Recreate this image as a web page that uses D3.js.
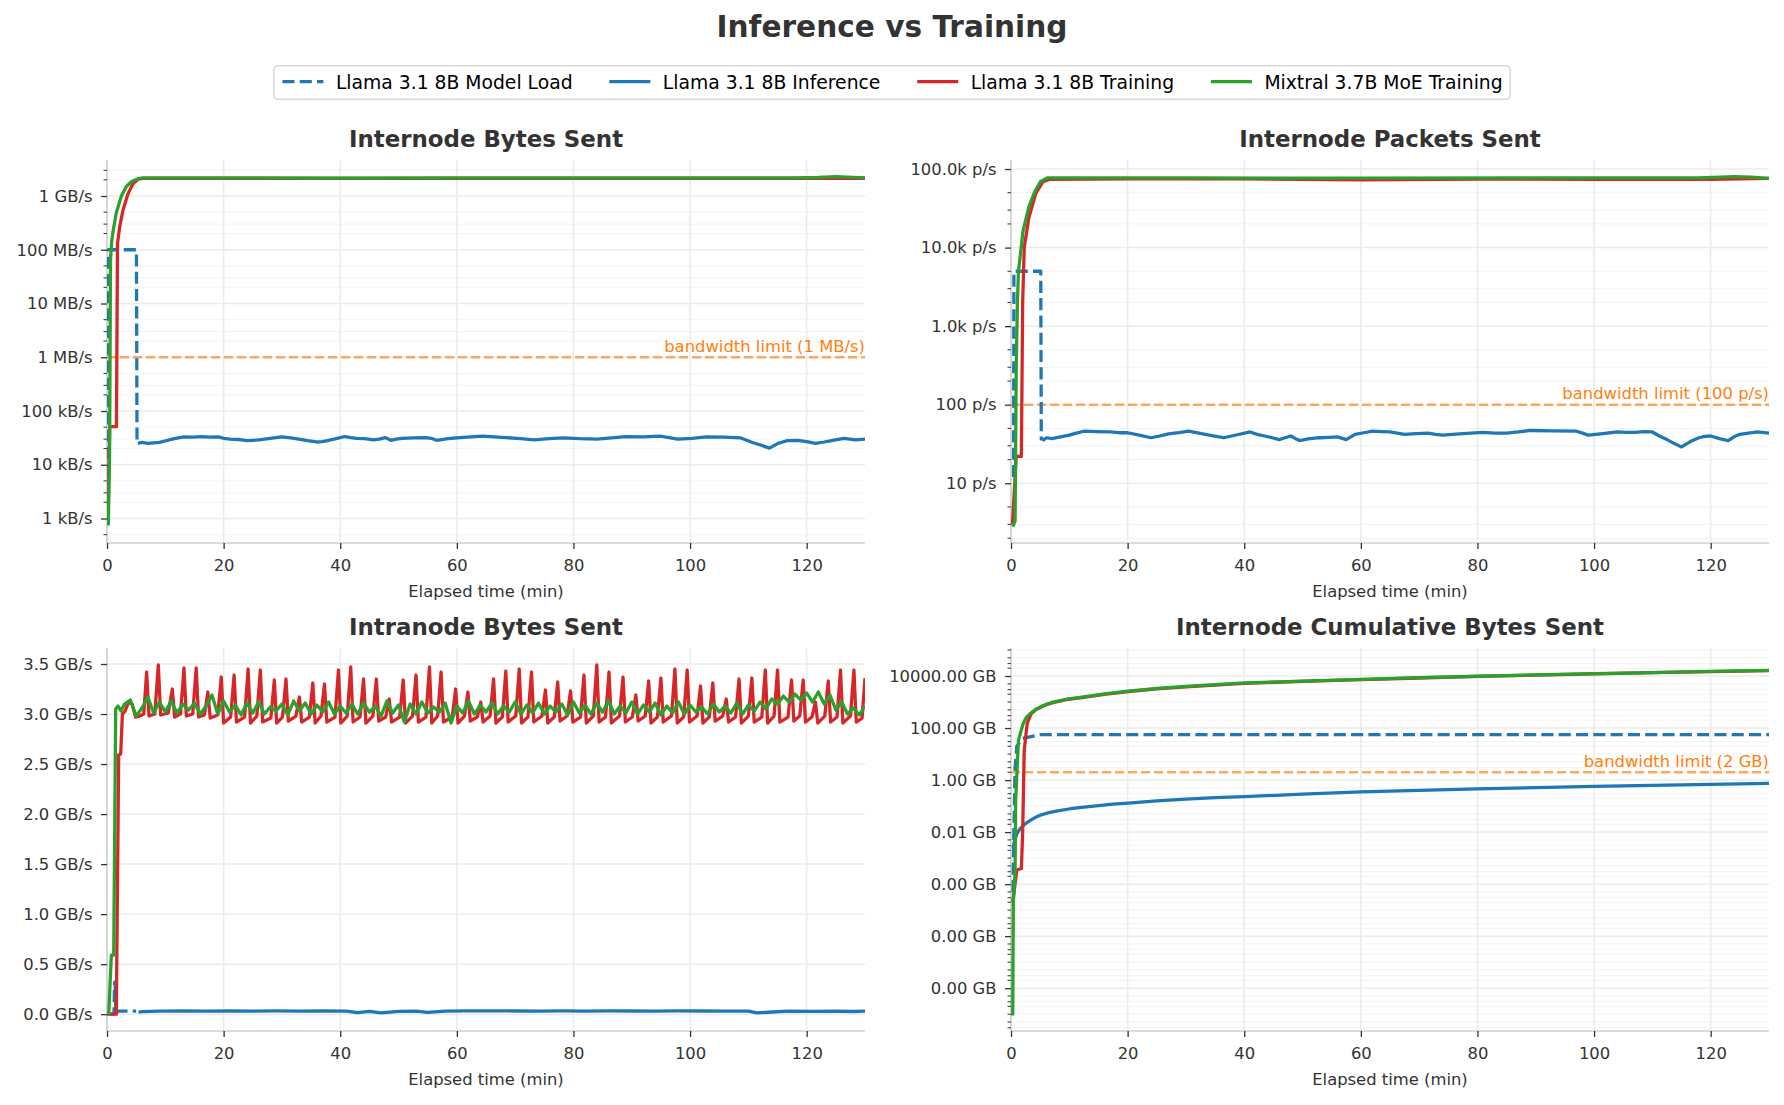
<!DOCTYPE html>
<html>
<head>
<meta charset="utf-8">
<script src="https://cdn.jsdelivr.net/npm/d3@7"></script>
<style>
html,body{margin:0;padding:0;background:#fff;}
svg{display:block;font-family:"DejaVu Sans",sans-serif;}
</style>
</head>
<body>
<svg id="chart" width="1784" height="1105"></svg>
<script>
// ---------------- DATA ----------------
const figTitle = "Inference vs Training";
const seriesNames = ["Llama 3.1 8B Model Load", "Llama 3.1 8B Inference", "Llama 3.1 8B Training", "Mixtral 3.7B MoE Training"];
const seriesColors = ["#1f77b4", "#1f77b4", "#d62728", "#2ca02c"];
const panelTitles = ["Internode Bytes Sent", "Internode Packets Sent", "Intranode Bytes Sent", "Internode Cumulative Bytes Sent"];
const xLabel = "Elapsed time (min)";
const xTicks = [0, 20, 40, 60, 80, 100, 120];

// Panel 1: internode bytes (B/s)
const p1Ticks = [1e3, 1e4, 1e5, 1e6, 1e7, 1e8, 1e9];
const p1Labels = ["1 kB/s", "10 kB/s", "100 kB/s", "1 MB/s", "10 MB/s", "100 MB/s", "1 GB/s"];
const p1Limit = 1e6, p1LimitLabel = "bandwidth limit (1 MB/s)";
const p1Load = [[0.17, 2.9e3], [0.2, 1e8], [5.05, 1e8], [5.15, 2.5e4]];
const p1Infer = [[5.3,25e3],[6.0,26e3],[7.0,25e3],[8.0,25.5e3],[9.0,26e3],[10.1,28e3],[11.2,30e3],[12.2,31.5e3],[13.2,33e3],[14.7,32.5e3],[16.2,33.5e3],[17.6,32.5e3],[19.1,33e3],[20.1,31e3],[21.1,30e3],[22.5,29.5e3],[24.0,28e3],[25.0,28.5e3],[26.0,29e3],[28.0,31e3],[30.0,33e3],[31.5,31.5e3],[32.9,30e3],[34.4,28e3],[35.9,26.5e3],[36.9,27e3],[37.8,28e3],[39.3,30.5e3],[40.8,33.5e3],[41.8,32e3],[42.8,31e3],[44.2,30.5e3],[45.7,29e3],[46.7,30e3],[47.7,32e3],[48.7,28.5e3],[49.6,30e3],[50.6,31e3],[52.6,31.5e3],[54.6,32e3],[55.6,31e3],[56.5,28.5e3],[58.5,30.5e3],[60.5,32e3],[62.5,33e3],[64.4,34e3],[66.4,33e3],[68.4,32e3],[70.9,30.5e3],[73.3,29e3],[75.8,30.5e3],[78.2,31.5e3],[81.1,30.5e3],[84.1,30e3],[86.5,31.5e3],[89.0,33.5e3],[92.0,33e3],[94.9,34e3],[96.4,32e3],[97.9,30e3],[100.3,31e3],[102.8,33e3],[105.8,32.5e3],[108.7,31.5e3],[110.7,26e3],[112.2,23e3],[113.6,20.4e3],[115.1,25e3],[116.6,28e3],[118.5,28.5e3],[120.0,27e3],[121.5,25e3],[123.0,26.5e3],[124.5,28.5e3],[126.4,31e3],[128.4,29e3],[130,30e3]];
const p1Train = [[0.17,800],[0.46,5.1e4],[1.62,5.1e4],[1.8,1.3e8],[2.18,2.7e8],[2.75,5.5e8],[3.6,1.1e9],[4.47,1.7e9],[5.33,2.05e9],[6.2,2.13e9],[20,2.12e9],[40,2.13e9],[60,2.12e9],[80,2.13e9],[100,2.12e9],[120,2.12e9],[130,2.14e9]];
const p1Moe = [[0.23,740],[0.45,2e4],[0.6,6.5e7],[0.8,1.4e8],[1.04,2.2e8],[1.6,4.9e8],[2.47,1.0e9],[3.32,1.5e9],[4.18,1.84e9],[5.33,2.1e9],[6.2,2.17e9],[20,2.17e9],[40,2.16e9],[60,2.17e9],[80,2.17e9],[100,2.17e9],[118,2.17e9],[122,2.22e9],[125,2.3e9],[128,2.22e9],[130,2.18e9]];

// Panel 2: internode packets (p/s)
const p2Ticks = [10, 100, 1e3, 1e4, 1e5];
const p2Labels = ["10 p/s", "100 p/s", "1.0k p/s", "10.0k p/s", "100.0k p/s"];
const p2Limit = 100, p2LimitLabel = "bandwidth limit (100 p/s)";
const p2Load = [[0.45, 12], [0.5, 5000], [5.1, 5000], [5.2, 35]];
const p2Infer = [[5.4,35],[6.1,38],[7.0,37],[8.5,39],[10.0,41],[11.2,43.5],[12.5,46],[14.8,45.5],[17.0,45],[18.5,44],[20.0,44],[22.0,41],[24.0,38],[25.5,40],[27.0,42.5],[28.8,44],[30.5,46],[32.2,43.5],[34.0,41],[35.2,39.5],[36.5,38],[38.8,41.5],[41.0,45],[42.2,42],[43.5,40],[44.8,38],[46.0,36],[47.0,38],[48.0,40],[48.8,37],[49.5,35],[51.2,37],[53.0,38],[54.5,38.5],[56.0,39],[57.5,36],[59.0,42],[60.5,44],[62.0,46],[63.5,45.5],[65.0,45],[66.2,43.5],[67.5,42],[69.5,43],[71.5,43.5],[72.8,42],[74.0,41],[77.5,43],[81.0,44.5],[83.0,43.5],[85.0,43.5],[87.0,45],[89.0,47],[93.0,46.5],[97.0,46],[98.0,43.5],[99.0,41],[101.5,43],[104.0,45],[105.5,44.5],[107.0,44.5],[108.5,45.5],[110.0,45],[111.2,40],[112.5,36],[113.8,32],[115.0,29],[116.5,34],[118.0,38],[119.0,39.5],[120.0,40],[121.5,37],[123.0,35],[124.0,39],[125.0,42],[126.5,43.5],[128.0,45],[130.0,43.5]];
const p2Train = [[0.25,3],[0.9,22],[1.78,22],[2.0,2000],[2.27,1e4],[3.06,2.4e4],[4.25,4.9e4],[5.5,6.9e4],[6.7,7.4e4],[20,7.5e4],[40,7.5e4],[60,7.3e4],[80,7.45e4],[100,7.4e4],[120,7.4e4],[130,7.6e4]];
const p2Moe = [[0.3,2.8],[0.7,3.3],[0.9,300],[1.1,2000],[1.28,5000],[2.08,1.65e4],[3.06,3.3e4],[4.05,5.1e4],[5.04,6.9e4],[6.2,7.7e4],[30,7.7e4],[60,7.65e4],[90,7.7e4],[118,7.7e4],[124,8.0e4],[127,7.9e4],[130,7.6e4]];

// Panel 3: intranode bytes (GB/s)
const p3Ticks = [0, 0.5, 1.0, 1.5, 2.0, 2.5, 3.0, 3.5];
const p3Labels = ["0.0 GB/s", "0.5 GB/s", "1.0 GB/s", "1.5 GB/s", "2.0 GB/s", "2.5 GB/s", "3.0 GB/s", "3.5 GB/s"];
const p3Load = [[0.3,0],[1.2,0],[1.3,0.32],[1.4,0.32],[1.5,0.01],[2.0,0.03],[5.0,0.03]];
const p3Infer = [[5.4,0.02],[6,0.025],[9,0.03],[13,0.033],[17,0.03],[21,0.034],[25,0.031],[29,0.033],[33,0.03],[37,0.032],[41,0.031],[43,0.015],[45,0.028],[47,0.014],[50,0.028],[53,0.031],[55,0.018],[58,0.03],[62,0.033],[66,0.034],[70,0.032],[74,0.03],[78,0.033],[82,0.031],[86,0.033],[90,0.032],[94,0.03],[98,0.033],[102,0.032],[106,0.031],[110,0.03],[111.5,0.013],[114,0.022],[117,0.03],[121,0.028],[125,0.03],[128,0.027],[130,0.031]];
const p3Train = [[0,0],[1.6,0],[2.0,2.59],[2.35,2.6],[2.64,3.0],[3.1,3.03],[3.7,3.12],[4.3,3.1],[4.9,2.97],[5.6,2.98],[6.3,3.0],
[6.8,3.42],[7.2,2.98],[8.2,3.0],[8.8,3.49],[9.2,2.99],[10.5,3.01],[11.2,3.25],[11.6,2.97],[12.6,3.0],
[13.2,3.46],[13.6,2.98],[14.7,3.0],[15.3,3.46],[15.7,2.97],[16.7,2.99],[17.3,3.22],[17.7,2.96],[19.0,2.99],
[19.6,3.37],[20.0,2.91],[21.2,2.97],[21.8,3.39],[22.2,2.92],[23.6,2.97],[24.2,3.45],[24.6,2.91],[25.7,2.98],
[26.3,3.44],[26.7,2.92],[28.1,2.96],[28.7,3.34],[29.1,2.91],[30.1,2.97],[30.7,3.35],[31.1,2.93],[32.4,2.98],
[33.0,3.17],[33.4,2.92],[34.7,2.97],[35.3,3.31],[35.7,2.91],[36.7,2.98],[37.3,3.30],[37.7,2.92],[39.1,2.97],
[39.7,3.44],[40.1,2.91],[41.2,2.98],[41.8,3.47],[42.2,2.92],[43.4,2.97],[44.0,3.35],[44.4,2.91],[45.6,2.98],
[46.2,3.35],[46.6,2.93],[47.8,2.97],[48.4,3.15],[48.8,2.92],[50.2,2.97],[50.8,3.34],[51.2,2.91],[52.4,2.98],
[53.0,3.39],[53.4,2.92],[54.7,2.97],[55.3,3.47],[55.7,2.91],[56.7,2.98],[57.3,3.42],[57.7,2.92],[59.2,2.97],
[59.8,3.25],[60.2,2.91],[61.3,2.98],[61.9,3.22],[62.3,2.93],[63.5,2.97],[64.1,3.12],[64.5,2.92],[65.7,2.98],
[66.3,3.35],[66.7,2.91],[67.8,2.97],[68.4,3.43],[68.8,2.92],[70.1,2.98],[70.7,3.45],[71.1,2.91],[72.2,2.97],
[72.8,3.42],[73.2,2.92],[74.6,2.98],[75.2,3.24],[75.6,2.91],[76.7,2.97],[77.3,3.32],[77.7,2.93],[78.9,2.98],
[79.5,3.23],[79.9,2.92],[81.2,2.97],[81.8,3.39],[82.2,2.91],[83.4,2.98],[84.0,3.49],[84.4,2.92],[85.5,2.97],
[86.1,3.42],[86.5,2.91],[87.9,2.98],[88.5,3.37],[88.9,2.92],[90.1,2.97],[90.7,3.19],[91.1,2.93],[92.3,2.98],
[92.9,3.33],[93.3,2.91],[94.4,2.97],[95.0,3.36],[95.4,2.92],[96.8,2.98],[97.4,3.45],[97.8,2.91],[98.9,2.97],
[99.5,3.44],[99.9,2.92],[101.2,2.98],[101.8,3.28],[102.2,2.91],[103.3,2.97],[103.9,3.31],[104.3,2.93],[105.6,2.98],
[106.2,3.15],[106.6,2.92],[107.8,2.97],[108.4,3.35],[108.8,2.91],[110.0,2.98],[110.6,3.36],[111.0,2.92],[112.3,2.97],
[112.9,3.44],[113.3,2.91],[114.4,2.98],[115.0,3.44],[115.4,2.92],[116.8,2.97],[117.4,3.34],[117.8,2.93],[118.8,2.98],
[119.4,3.34],[119.8,2.92],[120.9,2.97],[121.5,3.12],[121.9,2.91],[123.1,2.98],[123.7,3.33],[124.1,2.92],[125.2,2.97],
[125.8,3.44],[126.2,2.91],[127.5,2.98],[128.1,3.44],[128.5,2.92],[129.5,2.96],[130.0,3.36]];
const p3MoeStart = [[0,0],[0.29,0],[0.75,0.59],[1.15,0.59],[1.49,3.05],[1.89,3.08],[2.4,3.03]];
const p3MoeTimes = d3.range(3, 131, 1);
const p3MoeValues = [3.10,3.14,2.98,3.06,3.17,3.01,3.12,3.02,3.13,3.01,3.10,3.04,3.11,3.00,3.08,3.19,3.00,3.13,3.02,3.09,
2.99,3.11,3.01,3.12,3.00,3.07,3.03,3.10,2.99,3.13,3.03,3.11,3.00,3.09,3.02,3.12,3.00,3.08,3.01,3.10,
3.00,3.11,3.02,3.08,2.98,3.13,3.01,3.09,2.92,3.10,3.00,3.12,3.01,3.07,3.02,3.11,2.91,3.08,3.01,3.13,
3.00,3.09,3.02,3.11,3.00,3.08,3.02,3.12,3.00,3.09,3.01,3.11,3.00,3.08,3.02,3.10,2.99,3.12,3.01,3.09,
3.00,3.11,3.02,3.13,3.00,3.08,3.01,3.12,3.00,3.09,3.02,3.11,2.99,3.08,3.01,3.12,3.00,3.09,3.02,3.07,
3.00,3.10,3.02,3.08,3.01,3.11,3.00,3.09,3.03,3.12,3.05,3.15,3.10,3.18,3.12,3.20,3.14,3.21,3.12,3.22,
3.10,3.19,3.04,3.12,3.00,3.06,2.99,3.08];

// Panel 4: internode cumulative (GB)
const p4Ticks = [1e-8, 1e-6, 1e-4, 1e-2, 1, 100, 1e4];
const p4Labels = ["0.00 GB", "0.00 GB", "0.00 GB", "0.01 GB", "1.00 GB", "100.00 GB", "10000.00 GB"];
const p4Limit = 2, p4LimitLabel = "bandwidth limit (2 GB)";
const p4Load = [[0.35,5e-5],[0.5,1e-2],[0.7,3],[1.0,20],[2.0,40],[5.0,55.7],[130,55.7]];
const p4Infer = [[0.35,2.5e-3],[0.6,4.5e-3],[1.0,8.5e-3],[1.5,0.013],[2.3,0.02],[3.3,0.028],[4.2,0.037],[5.2,0.046],[6.5,0.056],[8.0,0.066],[10.2,0.079],[12.5,0.092],[15.0,0.105],[17.5,0.118],[20.1,0.13],[25,0.16],[30,0.187],[35,0.21],[40,0.23],[50,0.29],[60,0.35],[70,0.405],[80,0.46],[90,0.515],[100,0.57],[110,0.625],[120,0.68],[130,0.75]];
const p4Train = [[0.3,2e-5],[1.0,3.5e-4],[1.78,4e-4],[2.0,0.009],[2.27,14],[2.77,148],[3.46,355],[4.3,520],[5.2,650],[6.2,800],[7.2,950],[9.5,1230],[12.2,1480],[16,1980],[20.1,2500],[25,3200],[30,3850],[40,5200],[50,6250],[60,7200],[70,8400],[80,9600],[90,10900],[100,12100],[110,13400],[120,14800],[130,16200]];
const p4Moe = [[0.3,9e-10],[0.4,2e-5],[0.7,3e-4],[0.8,0.17],[1.28,34],[2.08,148],[2.6,250],[3.26,355],[4.2,520],[5.2,680],[6.2,840],[7.2,1000],[9.5,1280],[12.2,1550],[16,2080],[20.1,2640],[25,3350],[30,4000],[40.1,5400],[50,6400],[60.1,7400],[70,8600],[80.1,9800],[90,11000],[100,12300],[110,13600],[120,15000],[130,16500]];

// ---------------- LAYOUT ----------------
const TEXT = "#333333";
const FONT_TICK = 16.4;
const svg = d3.select("#chart");

svg.append("text").attr("x", 892).attr("y", 36.7).attr("text-anchor", "middle")
  .attr("font-size", 29.6).attr("font-weight", "bold").attr("fill", TEXT).text(figTitle);

const panels = [
  {id: 1, x0: 107, x1: 865, y0: 160, y1: 543, log: true, yDomain: [Math.pow(10, 2.544), Math.pow(10, 9.67)],
   ticks: p1Ticks, labels: p1Labels, limit: p1Limit, limitLabel: p1LimitLabel,
   series: [p1Load, p1Infer, p1Train, p1Moe]},
  {id: 2, x0: 1011, x1: 1769, y0: 160, y1: 543, log: true, yDomain: [Math.pow(10, 0.24), Math.pow(10, 5.115)],
   ticks: p2Ticks, labels: p2Labels, limit: p2Limit, limitLabel: p2LimitLabel,
   series: [p2Load, p2Infer, p2Train, p2Moe]},
  {id: 3, x0: 107, x1: 865, y0: 648, y1: 1031, log: false, yDomain: [-0.168, 3.66],
   ticks: p3Ticks, labels: p3Labels, limit: null,
   series: [p3Load, p3Infer, p3Train, p3MoeStart.concat(p3MoeTimes.map((t, i) => [t, p3MoeValues[i]]))]},
  {id: 4, x0: 1011, x1: 1769, y0: 648, y1: 1031, log: true, yDomain: [Math.pow(10, -9.646), Math.pow(10, 5.077)],
   ticks: p4Ticks, labels: p4Labels, limit: p4Limit, limitLabel: p4LimitLabel,
   series: [p4Load, p4Infer, p4Train, p4Moe]}
];

function minorTicks(domain, majors) {
  const out = [];
  const lo = Math.floor(Math.log10(domain[0])), hi = Math.ceil(Math.log10(domain[1]));
  for (let n = lo; n <= hi; n++) {
    for (const k of [1, 2, 3, 5]) {
      const v = k * Math.pow(10, n);
      if (v < domain[0] || v > domain[1]) continue;
      if (majors.some(m => Math.abs(Math.log10(m) - Math.log10(v)) < 1e-6)) continue;
      out.push(v);
    }
  }
  return out;
}

panels.forEach((p, pi) => {
  const g = svg.append("g");
  const x = d3.scaleLinear().domain([0, 130]).range([p.x0, p.x1]);
  const y = (p.log ? d3.scaleLog() : d3.scaleLinear()).domain(p.yDomain).range([p.y1, p.y0]);

  svg.append("clipPath").attr("id", "clip" + p.id).append("rect")
    .attr("x", p.x0).attr("y", p.y0).attr("width", p.x1 - p.x0).attr("height", p.y1 - p.y0);

  let minors = [];
  if (p.log) {
    minors = minorTicks(p.yDomain, p.ticks);
    g.selectAll(".mgrid").data(minors).enter().append("line")
      .attr("x1", p.x0).attr("x2", p.x1).attr("y1", d => y(d)).attr("y2", d => y(d))
      .attr("stroke", "#f3f3f3").attr("stroke-width", 1);
  }
  g.selectAll(".hgrid").data(p.ticks).enter().append("line")
    .attr("x1", p.x0).attr("x2", p.x1).attr("y1", d => y(d)).attr("y2", d => y(d))
    .attr("stroke", "#ebebeb").attr("stroke-width", 1.5);
  g.selectAll(".vgrid").data(xTicks).enter().append("line")
    .attr("x1", d => x(d)).attr("x2", d => x(d)).attr("y1", p.y0).attr("y2", p.y1)
    .attr("stroke", "#ebebeb").attr("stroke-width", 1.5);

  g.append("line").attr("x1", p.x0).attr("x2", p.x0).attr("y1", p.y0).attr("y2", p.y1)
    .attr("stroke", "#cfcfcf").attr("stroke-width", 1.5);
  g.append("line").attr("x1", p.x0).attr("x2", p.x1).attr("y1", p.y1).attr("y2", p.y1)
    .attr("stroke", "#cfcfcf").attr("stroke-width", 1.5);

  const yAxis = d3.axisLeft(y).tickValues(p.ticks).tickFormat((d, i) => p.labels[i]).tickSize(6).tickPadding(8.5);
  const ya = g.append("g").attr("transform", `translate(${p.x0},0)`).call(yAxis);
  ya.select(".domain").remove();
  ya.selectAll(".tick line").attr("stroke", "#333").attr("stroke-width", 1.3);
  ya.selectAll(".tick text").attr("font-size", FONT_TICK).attr("font-family", "DejaVu Sans").attr("fill", TEXT);
  if (p.log) {
    g.selectAll(".mtick").data(minors).enter().append("line")
      .attr("x1", p.x0 - 3.5).attr("x2", p.x0).attr("y1", d => y(d)).attr("y2", d => y(d))
      .attr("stroke", "#333").attr("stroke-width", 1);
  }

  const xAxis = d3.axisBottom(x).tickValues(xTicks).tickFormat(d3.format("d")).tickSize(6).tickPadding(10.5);
  const xa = g.append("g").attr("transform", `translate(0,${p.y1})`).call(xAxis);
  xa.select(".domain").remove();
  xa.selectAll(".tick line").attr("stroke", "#333").attr("stroke-width", 1.3);
  xa.selectAll(".tick text").attr("font-size", FONT_TICK).attr("font-family", "DejaVu Sans").attr("fill", TEXT);

  g.append("text").attr("x", (p.x0 + p.x1) / 2).attr("y", p.y1 + 54).attr("text-anchor", "middle")
    .attr("font-size", FONT_TICK).attr("fill", TEXT).text(xLabel);
  g.append("text").attr("x", (p.x0 + p.x1) / 2).attr("y", p.y0 - 13).attr("text-anchor", "middle")
    .attr("font-size", 22.9).attr("font-weight", "bold").attr("fill", TEXT).text(panelTitles[pi]);

  const plot = g.append("g").attr("clip-path", `url(#clip${p.id})`);

  if (p.limit !== null) {
    plot.append("line").attr("x1", p.x0).attr("x2", p.x1).attr("y1", y(p.limit)).attr("y2", y(p.limit))
      .attr("stroke", "#ff7f0e").attr("stroke-opacity", 0.65).attr("stroke-width", 2.46)
      .attr("stroke-dasharray", "9.1,3.9");
    g.append("text").attr("x", p.x1).attr("y", y(p.limit) - 5.5).attr("text-anchor", "end")
      .attr("font-size", FONT_TICK).attr("fill", "#ff7f0e").text(p.limitLabel);
  }

  const line = d3.line().x(d => x(d[0])).y(d => y(d[1]));
  p.series.forEach((s, si) => {
    plot.append("path").datum(s).attr("d", line)
      .attr("fill", "none").attr("stroke", seriesColors[si]).attr("stroke-width", 3.28)
      .attr("stroke-linejoin", "round")
      .attr("stroke-dasharray", si === 0 ? "12.1,5.2" : null);
  });
});

// ---------------- LEGEND ----------------
const lg = svg.append("g");
const legY = 81.7;
const handleLen = 41, textOff = 53.5, itemGap = 36.8, padL = 8.6, padR = 7.5;
const tmp = lg.append("g");
const widths = seriesNames.map(n => {
  const t = tmp.append("text").attr("font-size", 18.75).text(n);
  const w = t.node().getComputedTextLength();
  t.remove();
  return w;
});
tmp.remove();
let total = padL + padR;
widths.forEach((w, i) => { total += textOff + w + (i < widths.length - 1 ? itemGap : 0); });
const boxX = 892 - total / 2;
lg.append("rect").attr("x", boxX).attr("y", 65.7).attr("width", total).attr("height", 33.6)
  .attr("rx", 4).attr("fill", "#fff").attr("stroke", "#d6d6d6").attr("stroke-width", 1.5);
let cx = boxX + padL;
seriesNames.forEach((n, i) => {
  lg.append("line").attr("x1", cx).attr("x2", cx + handleLen).attr("y1", legY).attr("y2", legY)
    .attr("stroke", seriesColors[i]).attr("stroke-width", 3.28)
    .attr("stroke-dasharray", i === 0 ? "12.1,5.2" : null);
  lg.append("text").attr("x", cx + textOff).attr("y", 89).attr("font-size", 18.75).attr("fill", "#000").text(n);
  cx += textOff + widths[i] + itemGap;
});
</script>
</body>
</html>
